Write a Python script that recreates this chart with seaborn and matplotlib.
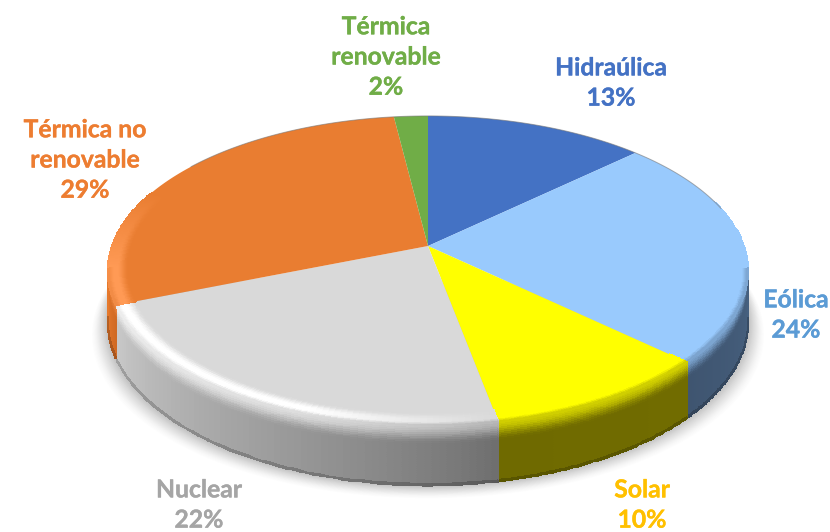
#!/usr/bin/env python3
import numpy as np
import matplotlib
matplotlib.use("Agg")
import matplotlib.pyplot as plt
import matplotlib.patheffects as pe
import seaborn as sns

categories = ["Hidraúlica", "Eólica", "Solar", "Nuclear", "Térmica no\nrenovable", "Térmica\nrenovable"]
shares = [13, 24, 10, 22, 29, 2]

face_colors = ["#4472c4", "#99cafd", "#ffff00", "#d9d9d9", "#e97d31", "#70ad47"]
text_colors = ["#4472c4", "#5b9bd5", "#ffc000", "#a5a5a5", "#ed7d31", "#70ad47"]
# side colour at the start and at the end of each slice (clockwise)
side_from = ["#2f4f86", "#46607f", "#716c00", "#6f6f6f", "#d06a24", "#4d7a30"]
side_to = ["#2f4f86", "#3f5570", "#6f6a00", "#c8c8c8", "#e6792c", "#4d7a30"]
ridge_colors = ["#4472c4", "#99cafd", "#ffff00", "#ffffff", "#ff9a55", "#70ad47"]
label_xy = [(611, 83), (796, 315), (642, 505), (199, 505), (85, 160), (386, 57)]

sns.set_theme(style="white")
plt.rcParams["font.family"] = ["Lato", "DejaVu Sans"]

CX, CY = 428, 246
A, B, K = 316, 151, 0.161
DEPTH = 50


def project(theta, r=1.0, drop=0.0):
    # theta in degrees, clockwise from the top of the disc
    t = np.radians(theta)
    u, v = r * np.sin(t), r * np.cos(t)
    w = 1 + K * v
    return CX + A * u / w, CY - B * v / w + drop * DEPTH / w


def rgb(c):
    return np.array(matplotlib.colors.to_rgb(c))


def mix(a, b, t):
    return a + (b - a) * t


def smooth(t):
    t = np.clip(t, 0, 1)
    return t * t * (3 - 2 * t)


def ridge_at(i, mid):
    # the light ridge fades towards the ends of the visible arc and at the right of Nuclear
    fade = np.clip((mid - 72) / 40, 0, 1) * np.clip((292 - mid) / 30, 0, 1)
    if categories[i] == "Nuclear":
        fade *= np.clip((mid - edges[i]) / 30, 0, 1)
    return mix(rgb(face_colors[i]), rgb(ridge_colors[i]), fade)


def side_at(i, frac):
    if categories[i] == "Nuclear":
        frac = frac ** 0.85
    return mix(rgb(side_from[i]), rgb(side_to[i]), frac)


fig = plt.figure(figsize=(8.30, 5.32), dpi=100)
ax = fig.add_axes([0, 0, 1, 1])
ax.set_xlim(0, 830)
ax.set_ylim(532, 0)
ax.axis("off")

edges = np.cumsum([0] + shares) * 3.6
right_limit, left_limit = 98, 262

# soft shadow under the disc
arc = np.linspace(right_limit - 15, left_limit + 15, 200)
for grow, alpha in zip(np.linspace(16, 1, 16), np.linspace(0.008, 0.04, 16)):
    x, y = project(arc, 1.0, 1.0)
    x = CX + (x - CX) * (1 + grow / 320)
    y = y + grow * 0.8
    ax.fill(x, y, color="#555555", alpha=alpha, lw=0)

# the rim, slice by slice, drawn as small coloured quads
drops = np.linspace(0, 1, 34)
for i in range(len(shares)):
    a0, a1 = max(edges[i], right_limit), min(edges[i + 1], left_limit)
    if a1 <= a0:
        continue
    th = np.linspace(a0, a1, 70)
    X = np.array([project(th, 1.0, d)[0] for d in drops])
    Y = np.array([project(th, 1.0, d)[1] for d in drops])
    C = np.zeros((len(drops) - 1, len(th) - 1, 3))
    for n in range(len(th) - 1):
        mid = (th[n] + th[n + 1]) / 2
        side = side_at(i, n / (len(th) - 2))
        top = mix(ridge_at(i, mid), side, 0.35)
        for m in range(len(drops) - 1):
            C[m, n] = mix(top, side, smooth(drops[m] / 0.3))
            if drops[m] > 0.96:
                C[m, n] = side * 0.8
    ax.pcolormesh(X, Y, C, shading="flat", edgecolors="face", linewidth=0.2)

# top of the disc
for i in range(len(shares)):
    th = np.linspace(edges[i], edges[i + 1], 120)
    x, y = project(th)
    ax.fill(np.r_[CX, x], np.r_[CY, y], color=face_colors[i], lw=0)

# thin line on the far edge
th = np.linspace(-55, 75, 120)
ax.plot(*project(th), color="#777777", lw=0.7, alpha=0.6)

# rounded edge where the top meets the rim
radii = np.linspace(0.94, 1.0, 22)
for i in range(len(shares)):
    a0, a1 = max(edges[i], 72), min(edges[i + 1], 292)
    if a1 <= a0:
        continue
    th = np.linspace(a0, a1, 80)
    X = np.array([project(th, r)[0] for r in radii])
    Y = np.array([project(th, r)[1] for r in radii])
    C = np.zeros((len(radii) - 1, len(th) - 1, 3))
    for n in range(len(th) - 1):
        mid = (th[n] + th[n + 1]) / 2
        frac = np.clip((mid - max(a0, right_limit)) / max(min(a1, left_limit) - max(a0, right_limit), 1), 0, 1)
        ridge = ridge_at(i, mid)
        top = mix(ridge, side_at(i, frac), 0.35)
        if mid < right_limit or mid > left_limit:
            top = ridge
        for m in range(len(radii) - 1):
            s = (radii[m] - 0.94) / 0.06
            C[m, n] = mix(rgb(face_colors[i]), ridge, smooth(s / 0.55))
            if s > 0.7:
                C[m, n] = mix(ridge, top, smooth((s - 0.7) / 0.3))
    ax.pcolormesh(X, Y, C, shading="flat", edgecolors="face", linewidth=0.2)

# labels
for name, val, col, (lx, ly) in zip(categories, shares, text_colors, label_xy):
    ax.text(lx, ly, f"{name}\n{val}%", color=col, ha="center", va="center",
            fontsize=17.8, fontweight="bold", linespacing=1.38, clip_on=False,
            path_effects=[pe.withStroke(linewidth=0.25, foreground=col)])

fig.savefig("out.png", dpi=100, facecolor="white")
